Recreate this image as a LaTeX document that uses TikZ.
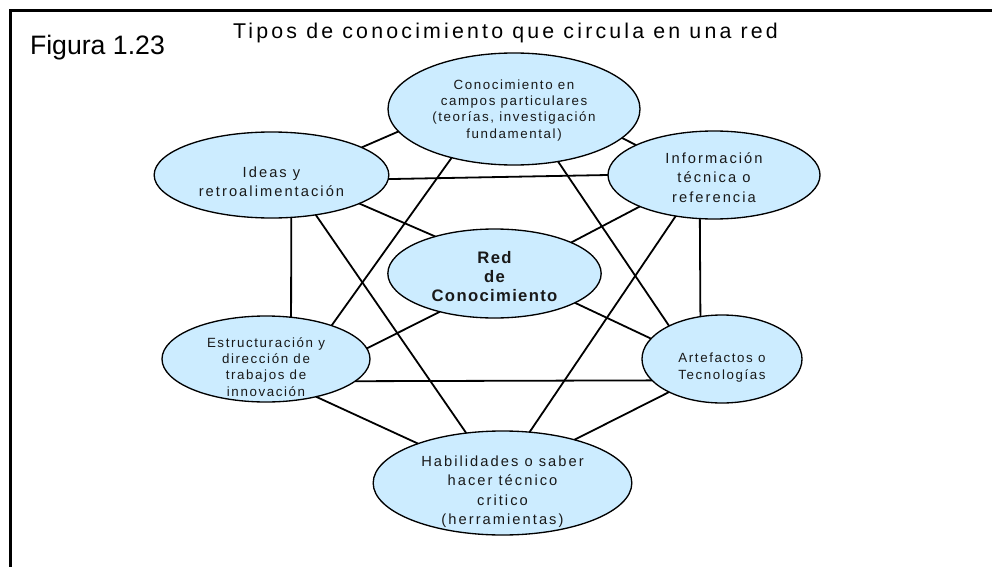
\documentclass[tikz,border=0pt]{standalone}
\usepackage{fontspec}
\setmainfont{Liberation Sans}
\newfontfamily\espaciada[LetterSpace=14]{Liberation Sans}
\newfontfamily\espaciadachica[LetterSpace=12]{Liberation Sans}
\newfontfamily\titulofont[LetterSpace=15]{Liberation Sans}
\newfontfamily\redfont[LetterSpace=8]{Liberation Sans}
\usepackage{tikz}
\usetikzlibrary{shapes.geometric}
\definecolor{celeste}{RGB}{204,236,255}
\definecolor{texto}{RGB}{25,25,25}
\begin{document}
\begin{tikzpicture}[x=0.75pt,y=0.75pt]
\tikzstyle{every node}+=[inner sep=0pt, outer sep=0pt]
\tikzstyle{tipo}=[ellipse, draw=black, line width=1pt, fill=celeste]
\tikzstyle{rotulo}=[align=center, text=texto]
\tikzstyle{grande}=[rotulo, font=\espaciada\fontsize{11}{14.5}\selectfont]
\tikzstyle{chico}=[rotulo, font=\espaciadachica\fontsize{10}{12.2}\selectfont]
\tikzstyle{enlace}=[line width=1.35pt]
\useasboundingbox (0,0) rectangle (992,-567);
\draw [line width=2.2pt] (10.3,-567) -- (10.3,-10.5) -- (992,-10.5);
\node [anchor=base west, font=\fontsize{20}{24}\selectfont] (figura) at (30,-55) {Figura 1.23};
\node [anchor=base west, font=\titulofont\fontsize{16}{19}\selectfont] (titulo) at (233,-38.3) {Tipos de conocimiento que circula en una red};
\node [tipo, minimum width=189pt, minimum height=84pt, label={[chico, name=conotxt, yshift=-1pt]center:{Conocimiento en\\campos particulares\\(teorías, investigación\\fundamental)}}] (cono) at (514,-109) {};
\node [tipo, minimum width=159pt, minimum height=66pt, label={[grande, name=infotxt, yshift=-2pt]center:{Información\\técnica o\\referencia}}] (info) at (714,-175) {};
\node [tipo, minimum width=176pt, minimum height=64.5pt, label={[grande, name=ideastxt, yshift=-5pt]center:{Ideas y\\retroalimentación}}] (ideas) at (271.5,-175) {};
\node [tipo, minimum width=160pt, minimum height=66.75pt, label={[rotulo, font=\redfont\bfseries\fontsize{12.5}{14.25}\selectfont, name=redtxt, yshift=-2pt]center:{Red\\de\\Conocimiento}}] (red) at (494.5,-273.5) {};
\node [tipo, minimum width=156pt, minimum height=64.5pt, label={[chico, name=estructxt, yshift=-6pt]center:{Estructuración y\\dirección de\\trabajos de\\innovación}}] (estruc) at (266,-359) {};
\node [tipo, minimum width=120pt, minimum height=66pt, label={[chico, name=arteftxt, yshift=-6.5pt]center:{Artefactos o\\Tecnologías}}] (artef) at (722,-359) {};
\node [tipo, minimum width=194pt, minimum height=78pt, label={[grande, name=habiltxt, yshift=-6.5pt]center:{Habilidades o saber\\hacer técnico\\critico\\(herramientas)}}] (habil) at (502.5,-483) {};
\draw [enlace] (cono.-169) -- (ideas.17);
\draw [enlace] (cono.-15) -- (info.159);
\draw [enlace] (cono.-142) -- (estruc.27);
\draw [enlace] (cono.-50) -- (artef.148);
\draw [enlace] (ideas.-2) -- (info.180);
\draw [enlace] (ideas.-18) -- (red.148);
\draw [enlace] (ideas.-65) -- (estruc.59);
\draw [enlace] (ideas.-42) -- (habil.126);
\draw [enlace] (info.-157) -- (red.22);
\draw [enlace] (info.-108) -- (artef.117.5);
\draw [enlace] (info.-133) -- (habil.62);
\draw [enlace] (red.-145) -- (estruc.6);
\draw [enlace] (red.-20) -- (artef.164);
\draw [enlace] (estruc.-14) -- (artef.-163);
\draw [enlace] (estruc.-37) -- (habil.155);
\draw [enlace] (artef.-148) -- (habil.31);
\end{tikzpicture}
\end{document}
